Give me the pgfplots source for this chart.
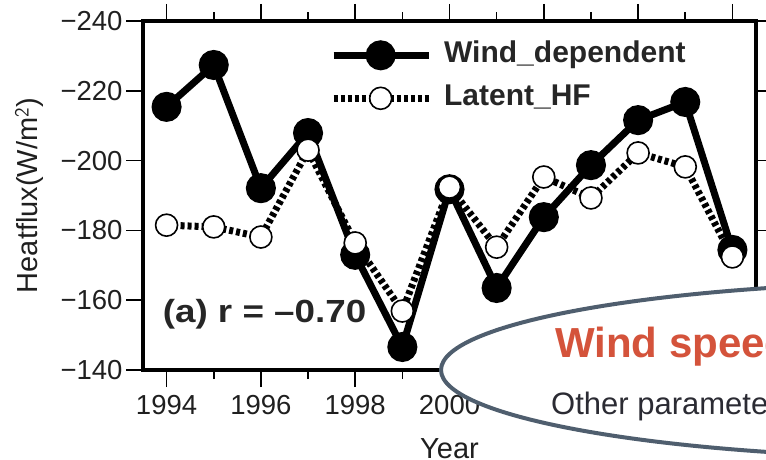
\documentclass[border=0pt]{standalone}
\usepackage{fontspec}
\setmainfont{Liberation Sans}
\usepackage{graphicx}
\usepackage{pgfplots}
\pgfplotsset{compat=1.18}
\definecolor{ellbord}{HTML}{4F5E6E}
\definecolor{redtxt}{HTML}{D4533B}
\definecolor{othtxt}{HTML}{2B2B33}
\begin{document}
\begin{tikzpicture}
\useasboundingbox (-143pt,-90pt) rectangle (623pt,370pt);
\clip (-143pt,-90pt) rectangle (623pt,370pt);
\begin{axis}[
  at={(0pt,0pt)}, anchor=south west,
  scale only axis, width=613pt, height=349pt,
  xmin=1993.5, xmax=2006.5, ymin=-240, ymax=-140,
  y dir=reverse,
  xtick={1994,1996,...,2006},
  minor xtick={1995,1997,...,2005},
  ytick={-240,-220,-200,-180,-160,-140},
  yticklabels={{−240},{−220},{−200},{−180},{−160},{−140}},
  xticklabel style={/pgf/number format/set thousands separator={}, yshift=-5pt},
  /pgf/number format/assume math mode=true,
  tick align=outside,
  xtick pos=both, ytick pos=both,
  xticklabel pos=lower, yticklabel pos=left,
  major tick length=17pt, minor tick length=9pt,
  tick style={line width=1.6pt, black},
  axis line style={line width=3.5pt},
  ticklabel style={font=\fontsize{27.5}{31}\selectfont, text=black!88},
  xlabel={Year}, ylabel={Heatflux(W/m$^{\mathsf 2}$)},
  label style={font=\fontsize{29}{33}\selectfont, text=black!88},
  xlabel style={yshift=-17pt},
  ylabel style={yshift=10pt},
  legend style={at={(0.305,0.951)}, anchor=north west, draw=none, fill=none,
    inner sep=0pt, row sep=9pt, column sep=10pt,
    font=\fontsize{30}{34}\selectfont\bfseries,
    nodes={inner sep=2pt, text height=22pt, text depth=8pt, text=black!85}},
  legend cell align=left,
  legend image code/.code={\draw[mark repeat=2,mark phase=2,#1] plot coordinates {(0pt,0pt) (47pt,0pt) (95pt,0pt)};},
]
\addplot[black, line width=7pt, mark=*, mark size=11.5pt, mark options={solid, fill=black}]
coordinates {
(1994,-215.4) (1995,-227.4) (1996,-192.1) (1997,-207.9) (1998,-173.0)
(1999,-146.6) (2000,-191.8) (2001,-163.5) (2002,-183.8) (2003,-198.7)
(2004,-211.6) (2005,-216.8) (2006,-174.4)
};
\addlegendentry{Wind\_dependent}
\addplot[black, line width=7pt, dash pattern=on 4pt off 3pt, mark=*, mark size=11pt,
  mark options={solid, fill=white, draw=black, line width=1.6pt}]
coordinates {
(1994,-181.5) (1995,-181.0) (1996,-178.1) (1997,-203.0) (1998,-176.4)
(1999,-156.9) (2000,-192.4) (2001,-175.2) (2002,-195.3) (2003,-189.3)
(2004,-202.2) (2005,-198.2) (2006,-172.4)
};
\addlegendentry{Latent\_HF}
\node[anchor=base west, font=\fontsize{32}{36}\selectfont\bfseries, text=black!85, inner sep=0pt]
  at (axis description cs:0.032,0.135) {\scalebox{1.15}[1]{(a) r = –0.70}};
\end{axis}
\draw[ellbord, line width=4pt, fill=white] (812pt,0pt) ellipse [x radius=514pt, y radius=88pt];
\node[anchor=base west, inner sep=0pt, text=redtxt, font=\fontsize{42}{46}\selectfont\bfseries] at (412pt,12pt) {Wind speed};
\node[anchor=base west, inner sep=0pt, text=othtxt, font=\fontsize{31}{35}\selectfont] at (408pt,-45pt) {Other parameters};
\end{tikzpicture}
\end{document}
